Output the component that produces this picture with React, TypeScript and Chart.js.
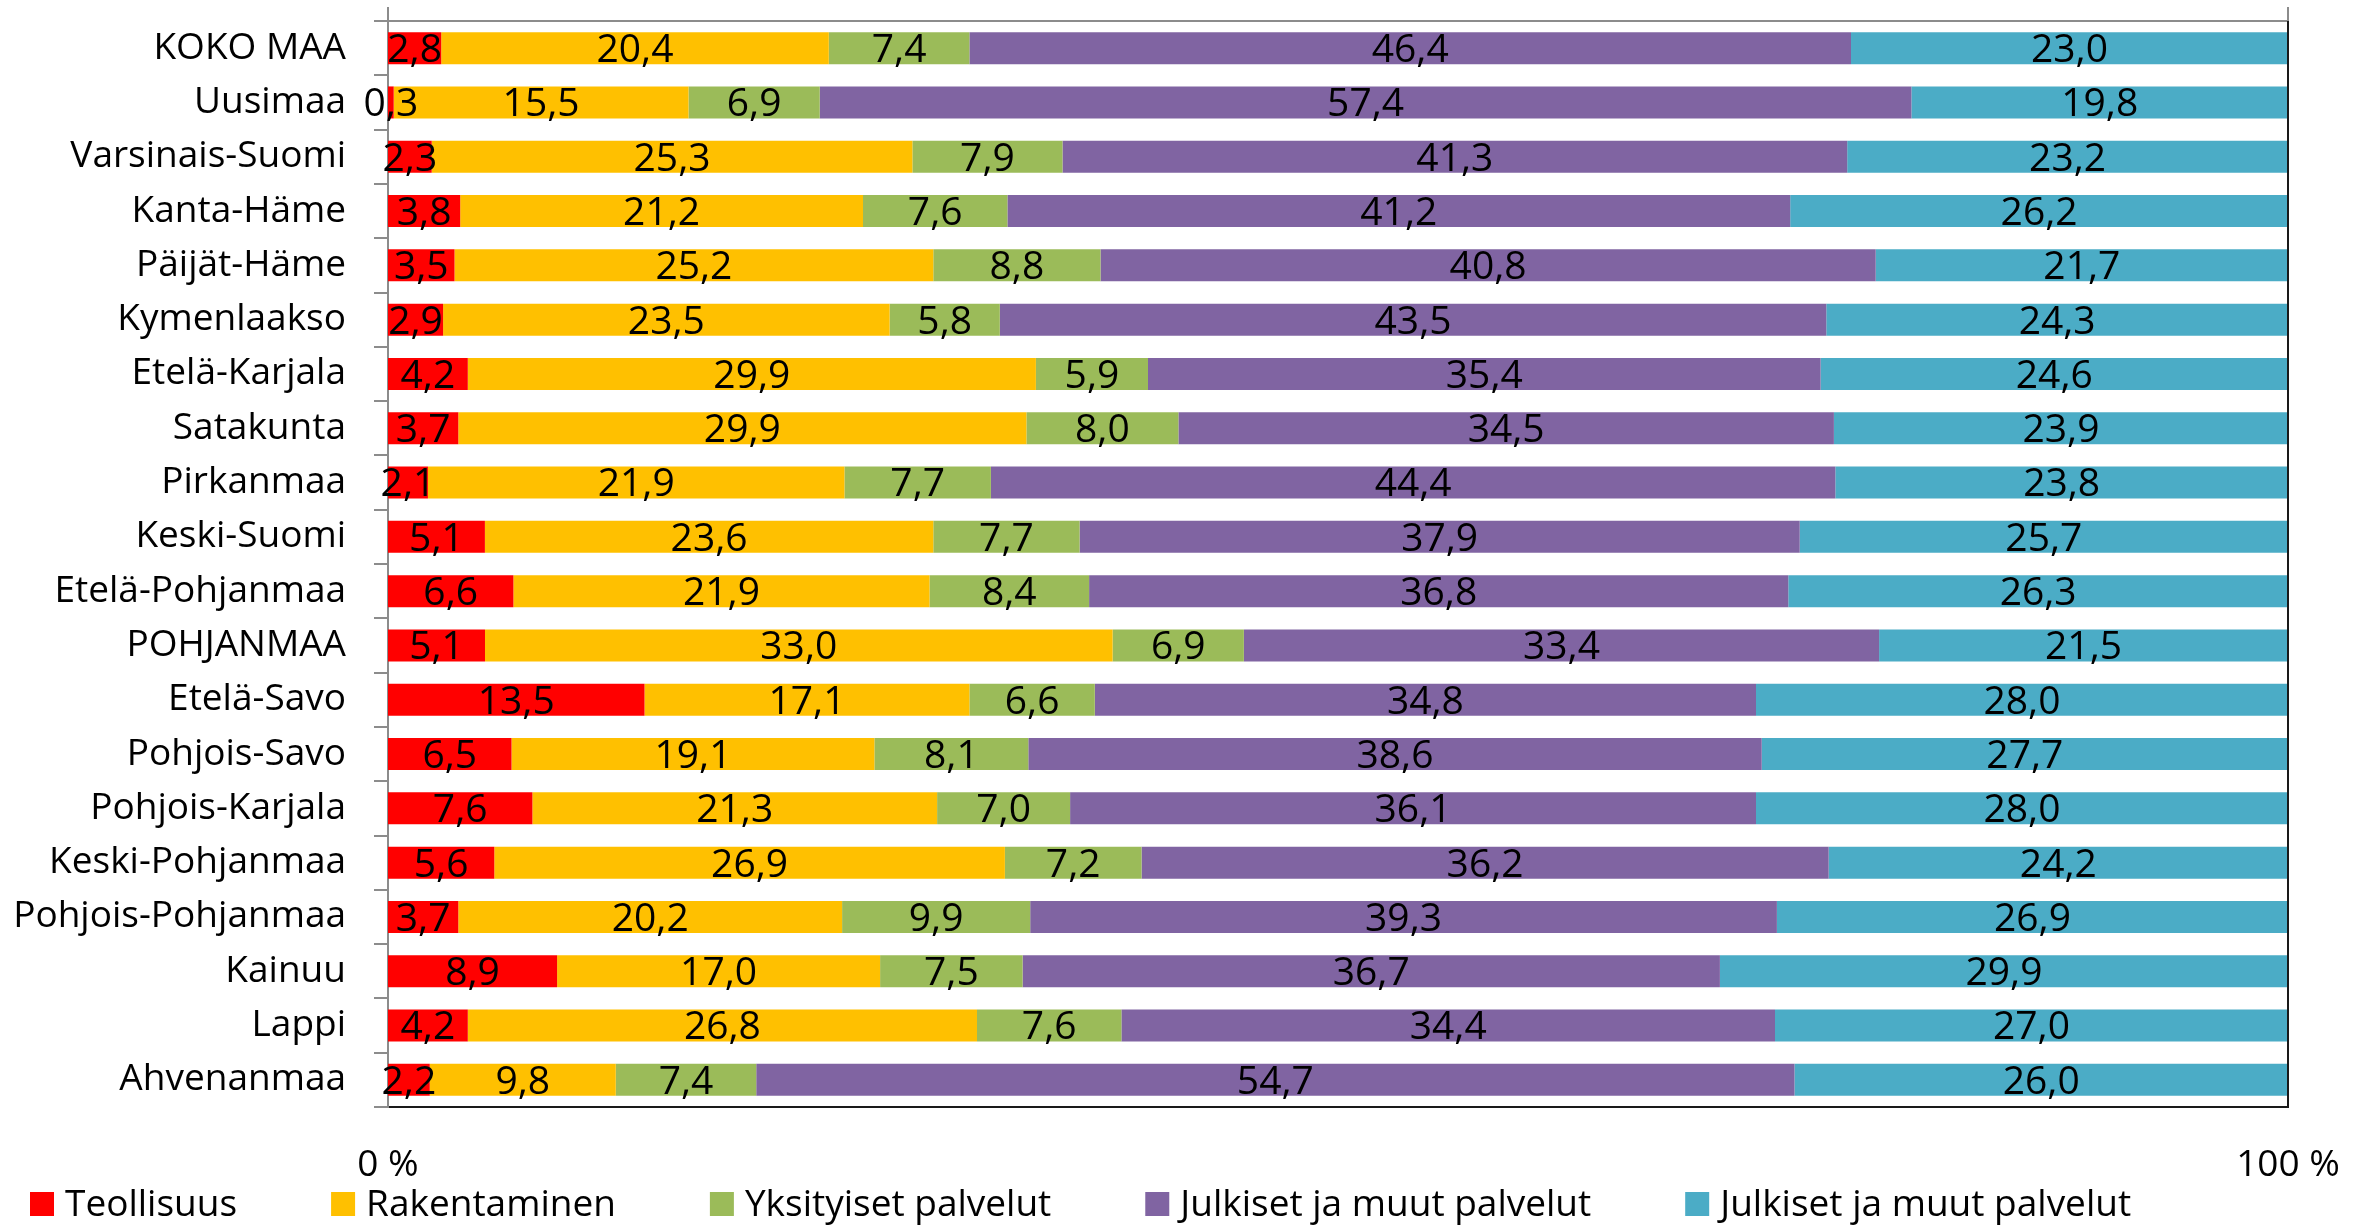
import React, { useEffect, useRef } from 'react';
import { Chart, registerables } from 'chart.js';

Chart.register(...registerables);

const FONT = "'Open Sans', 'Noto Sans', sans-serif";

const regions = [
  'KOKO MAA', 'Uusimaa', 'Varsinais-Suomi', 'Kanta-Häme', 'Päijät-Häme', 'Kymenlaakso',
  'Etelä-Karjala', 'Satakunta', 'Pirkanmaa', 'Keski-Suomi', 'Etelä-Pohjanmaa', 'POHJANMAA',
  'Etelä-Savo', 'Pohjois-Savo', 'Pohjois-Karjala', 'Keski-Pohjanmaa', 'Pohjois-Pohjanmaa',
  'Kainuu', 'Lappi', 'Ahvenanmaa',
];

const seriesNames = [
  'Teollisuus', 'Rakentaminen', 'Yksityiset palvelut', 'Julkiset ja muut palvelut', 'Julkiset ja muut palvelut',
];

const teollisuus = [2.8, 0.3, 2.3, 3.8, 3.5, 2.9, 4.2, 3.7, 2.1, 5.1, 6.6, 5.1, 13.5, 6.5, 7.6, 5.6, 3.7, 8.9, 4.2, 2.2];
const rakentaminen = [20.4, 15.5, 25.3, 21.2, 25.2, 23.5, 29.9, 29.9, 21.9, 23.6, 21.9, 33.0, 17.1, 19.1, 21.3, 26.9, 20.2, 17.0, 26.8, 9.8];
const yksityiset = [7.4, 6.9, 7.9, 7.6, 8.8, 5.8, 5.9, 8.0, 7.7, 7.7, 8.4, 6.9, 6.6, 8.1, 7.0, 7.2, 9.9, 7.5, 7.6, 7.4];
const julkiset1 = [46.4, 57.4, 41.3, 41.2, 40.8, 43.5, 35.4, 34.5, 44.4, 37.9, 36.8, 33.4, 34.8, 38.6, 36.1, 36.2, 39.3, 36.7, 34.4, 54.7];
const julkiset2 = [23.0, 19.8, 23.2, 26.2, 21.7, 24.3, 24.6, 23.9, 23.8, 25.7, 26.3, 21.5, 28.0, 27.7, 28.0, 24.2, 26.9, 29.9, 27.0, 26.0];

const seriesColors = ['#FF0000', '#FFC000', '#9BBB59', '#8064A2', '#4BACC6'];

const xTickValues = [0, 100];

const allSeries = [teollisuus, rakentaminen, yksityiset, julkiset1, julkiset2];

const fmt = (v: number) => v.toFixed(1).replace('.', ',');

const dataLabelPlugin = {
  id: 'dataLabels',
  afterDatasetsDraw(chart: any) {
    const ctx = chart.ctx;
    const size = 39;
    ctx.save();
    ctx.font = `${size}px ${FONT}`;
    ctx.fillStyle = '#000';
    ctx.textAlign = 'center';
    ctx.textBaseline = 'alphabetic';
    chart.data.datasets.forEach((ds: any, di: number) => {
      const meta = chart.getDatasetMeta(di);
      meta.data.forEach((el: any, i: number) => {
        const p = el.getProps(['x', 'y', 'base'], true);
        const cx = (p.x + p.base) / 2;
        ctx.fillText(fmt(ds.rawValues[i]), cx, p.y + size * 0.714 / 2);
      });
    });
    ctx.restore();
  },
};

const framePlugin = {
  id: 'frame',
  afterDatasetsDraw(chart: any) {
    const { ctx, chartArea } = chart;
    ctx.save();
    ctx.strokeStyle = '#1a1a1a';
    ctx.lineWidth = 2;
    ctx.beginPath();
    ctx.moveTo(chartArea.right, chartArea.top);
    ctx.lineTo(chartArea.right, chartArea.bottom + 1);
    ctx.stroke();
    ctx.restore();
  },
};

const legendPlugin = {
  id: 'customLegend',
  afterDraw(chart: any) {
    const ctx = chart.ctx;
    const size = 37;
    const box = 24;
    const baseline = chart.height - 9;
    let x = 30;
    ctx.save();
    ctx.font = `${size}px ${FONT}`;
    ctx.textAlign = 'left';
    ctx.textBaseline = 'alphabetic';
    chart.data.datasets.forEach((ds: any) => {
      ctx.fillStyle = ds.backgroundColor;
      ctx.fillRect(x, baseline - box, box, box);
      ctx.fillStyle = '#000';
      const tx = x + box + 11;
      ctx.fillText(ds.label, tx, baseline);
      x = tx + ctx.measureText(ds.label).width + 94;
    });
    ctx.restore();
  },
};

export default function App() {
  const ref = useRef<HTMLCanvasElement | null>(null);

  useEffect(() => {
    if (!ref.current) return;
    Chart.defaults.font.family = FONT;
    const datasets = allSeries.map((arr, si) => ({
      label: seriesNames[si],
      rawValues: arr,
      data: arr.map((v, i) => {
        const sum = allSeries.reduce((s, a) => s + a[i], 0);
        return (v / sum) * 100;
      }),
      backgroundColor: seriesColors[si],
      borderWidth: 0,
      barPercentage: 0.59,
      categoryPercentage: 1.0,
    }));

    const chart = new Chart(ref.current, {
      type: 'bar',
      data: { labels: regions, datasets: datasets as any },
      options: {
        indexAxis: 'y',
        responsive: false,
        animation: false,
        devicePixelRatio: 1,
        layout: { padding: { left: 0, right: 68, top: 7, bottom: 36 } },
        plugins: {
          legend: { display: false },
          tooltip: { enabled: false },
        },
        scales: {
          x: {
            type: 'linear',
            stacked: true,
            position: 'bottom',
            min: 0,
            max: 100,
            afterBuildTicks: (s: any) => {
              s.ticks = xTickValues.map((v) => ({ value: v }));
            },
            ticks: {
              callback: (v: any) => `${v} %`,
              font: { family: FONT, size: 37 },
              color: '#000',
              padding: 36,
              maxRotation: 0,
              autoSkip: false,
            },
            grid: { display: false, drawTicks: false },
            border: { display: true, color: '#1a1a1a', width: 2 },
            afterFit: (s: any) => {
              s.height = 82;
              s.paddingLeft = 0;
              s.paddingRight = 0;
            },
          },
          x2: {
            type: 'linear',
            axis: 'x',
            position: 'top',
            min: 0,
            max: 100,
            afterBuildTicks: (s: any) => {
              s.ticks = xTickValues.map((v) => ({ value: v }));
            },
            ticks: { display: false },
            grid: { drawOnChartArea: false, drawTicks: true, tickLength: 14, color: '#8c8c8c', lineWidth: 2 },
            border: { display: true, color: '#8c8c8c', width: 2 },
            afterFit: (s: any) => {
              s.height = 14;
              s.paddingLeft = 0;
              s.paddingRight = 0;
            },
          },
          y: {
            type: 'category',
            stacked: true,
            offset: true,
            ticks: {
              font: { family: FONT, size: 37 },
              color: '#000',
              padding: 28,
              autoSkip: false,
            },
            grid: { drawOnChartArea: false, drawTicks: true, tickLength: 14, color: '#8c8c8c', lineWidth: 2, offset: true },
            border: { display: true, color: '#8c8c8c', width: 2 },
            afterFit: (s: any) => {
              s.width = 388;
              s.paddingTop = 0;
              s.paddingBottom = 0;
            },
          },
        },
      } as any,
      plugins: [dataLabelPlugin, framePlugin, legendPlugin],
    });

    return () => chart.destroy();
  }, []);

  return (
    <div style={{ position: 'absolute', left: 0, top: 0, width: 2356, height: 1225, background: '#fff' }}>
      <canvas ref={ref} width={2356} height={1225} style={{ display: 'block', width: 2356, height: 1225 }} />
    </div>
  );
}
